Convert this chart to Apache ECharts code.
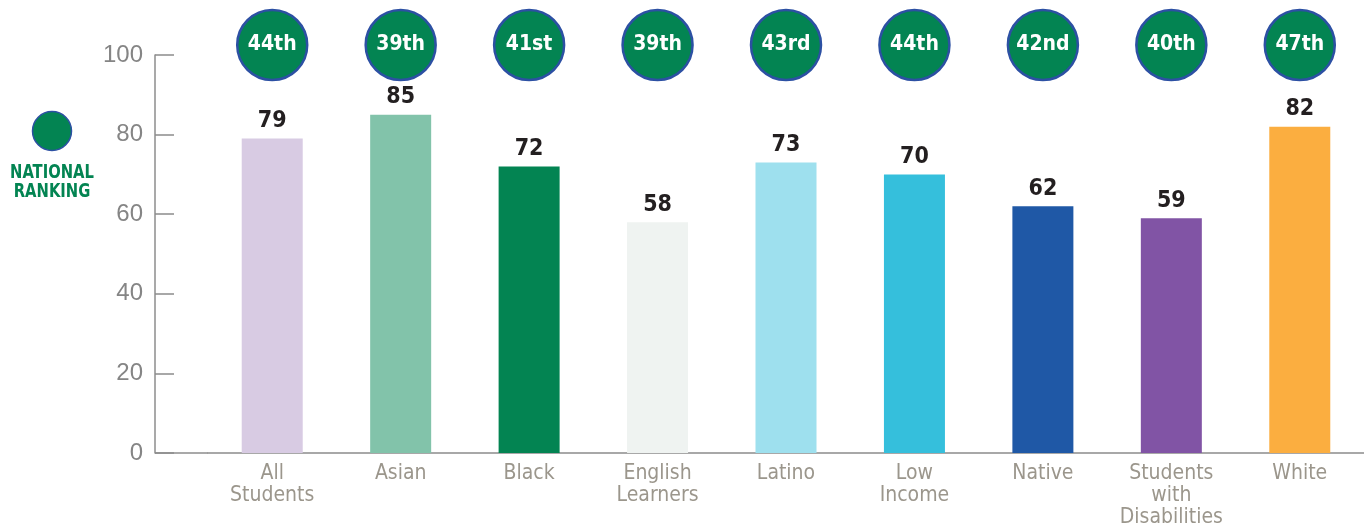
<!DOCTYPE html>
<html>
<head>
<meta charset="utf-8">
<script src="https://cdn.jsdelivr.net/npm/echarts@6/dist/echarts.min.js"></script>
<style>
  html, body { margin: 0; padding: 0; background: #fff; }
  #chart { width: 1364px; height: 529px; }
</style>
</head>
<body>
<div id="chart"></div>
<script>
// categories (line breaks as in the picture)
var categories = ['All\nStudents', 'Asian', 'Black', 'English\nLearners', 'Latino', 'Low\nIncome', 'Native', 'Students\nwith\nDisabilities', 'White'];
// bar values
var scores = [79, 85, 72, 58, 73, 70, 62, 59, 82];
// national ranking shown in the circles
var ranks = ['44th', '39th', '41st', '39th', '43rd', '44th', '42nd', '40th', '47th'];
var barColors = ['#d8cbe3', '#82c3aa', '#038452', '#eff3f1', '#9ee0ee', '#35bfdc', '#1f58a6', '#8154a5', '#fbae40'];
var yTicks = [0, 20, 40, 60, 80, 100];

var narrow = "'Liberation Sans Narrow', 'DejaVu Sans Condensed', 'Arial Narrow', sans-serif";
var green = '#038452';
var ringBlue = '#2c50a3';

var chart = echarts.init(document.getElementById('chart'));

var option = {
  animation: false,
  grid: [
    { left: 208, right: -6, top: 55, bottom: 76 },
    { left: 208, right: -6, top: 10, height: 70 }
  ],
  xAxis: [
    {
      type: 'category',
      gridIndex: 0,
      data: categories,
      axisLine: { lineStyle: { color: '#8c8c8c', width: 1.5 } },
      axisTick: { show: false },
      axisLabel: {
        interval: 0,
        margin: 10,
        color: '#9b968c',
        fontFamily: narrow,
        fontSize: 21,
        lineHeight: 22
      }
    },
    {
      type: 'category',
      gridIndex: 1,
      data: categories,
      show: false
    }
  ],
  yAxis: [
    {
      type: 'value',
      gridIndex: 0,
      min: yTicks[0],
      max: yTicks[yTicks.length - 1],
      interval: 20,
      offset: 53,
      axisLine: { show: true, lineStyle: { color: '#8c8c8c', width: 1.5 } },
      axisTick: { show: true, inside: true, length: 19, lineStyle: { color: '#8c8c8c', width: 1.5 } },
      splitLine: { show: false },
      axisLabel: {
        margin: 12,
        color: '#858585',
        fontFamily: "'Liberation Sans', Arial, sans-serif",
        fontSize: 24
      }
    },
    {
      type: 'category',
      gridIndex: 1,
      data: ['NATIONAL RANKING'],
      show: false
    }
  ],
  graphic: [
    // missing piece of the x axis line between the y axis and the grid
    {
      type: 'line',
      shape: { x1: 155, y1: 453, x2: 208, y2: 453 },
      style: { stroke: '#8c8c8c', lineWidth: 1.5 }
    },
    {
      type: 'circle',
      shape: { cx: 52, cy: 131, r: 19.5 },
      style: { fill: green, stroke: ringBlue, lineWidth: 1.5 }
    },
    {
      type: 'text',
      x: 52,
      y: 163,
      scaleX: 0.82,
      style: {
        text: 'NATIONAL\nRANKING',
        fill: green,
        font: 'bold 20px ' + narrow,
        align: 'center',
        verticalAlign: 'top',
        lineHeight: 19
      }
    }
  ],
  series: [
    {
      type: 'bar',
      xAxisIndex: 0,
      yAxisIndex: 0,
      barWidth: 61,
      data: scores.map(function (v, i) {
        return { value: v, itemStyle: { color: barColors[i] } };
      }),
      label: {
        show: true,
        position: 'top',
        distance: 6,
        color: '#231f20',
        fontFamily: narrow,
        fontWeight: 'bold',
        fontSize: 23
      }
    },
    {
      type: 'scatter',
      xAxisIndex: 1,
      yAxisIndex: 1,
      symbol: 'circle',
      symbolSize: 70,
      itemStyle: { color: green, borderColor: ringBlue, borderWidth: 2.5, opacity: 1 },
      data: categories.map(function (c, i) {
        return { value: [c, 'NATIONAL RANKING'], rank: ranks[i] };
      }),
      label: {
        show: true,
        position: 'inside',
        color: '#ffffff',
        fontFamily: narrow,
        fontWeight: 'bold',
        fontSize: 21,
        formatter: function (p) { return p.data.rank; }
      }
    }
  ]
};

chart.setOption(option);
</script>
</body>
</html>
